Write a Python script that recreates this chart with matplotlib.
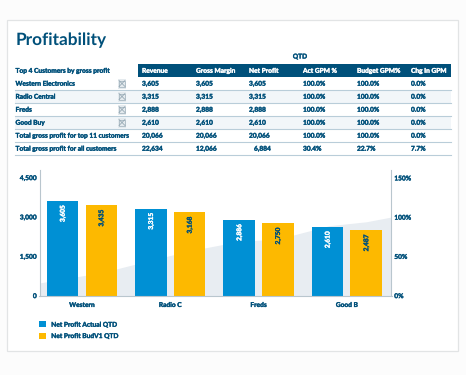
from matplotlib import pyplot as plt
from matplotlib.patches import Rectangle
from matplotlib.text import Text
import matplotlib.patheffects as pe

plt.rcParams['font.family'] = 'Lato'
plt.rcParams['text.hinting'] = 'no_hinting'

navy = '#00507a'
rule = '#b9cdd9'
fs = 4.75

# table
columns = ['Revenue', 'Gross Margin', 'Net Profit', 'Act GPM %', 'Budget GPM%', 'Chg In GPM']
rows = ['Western Electronics', 'Radio Central', 'Freds', 'Good Buy',
        'Total gross profit for top 11 customers', 'Total gross profit for all customers']
revenue = ['3,605', '3,315', '2,888', '2,610', '20,066', '22,634']
gross_margin = ['3,605', '3,315', '2,888', '2,610', '20,066', '12,066']
net_profit = ['3,605', '3,315', '2,888', '2,610', '20,066', '6,884']
act_gpm = ['100.0%', '100.0%', '100.0%', '100.0%', '100.0%', '30.4%']
budget_gpm = ['100.0%', '100.0%', '100.0%', '100.0%', '100.0%', '22.7%']
chg_gpm = ['0.0%', '0.0%', '0.0%', '0.0%', '0.0%', '7.7%']

# chart
customers = ['Western', 'Radio C', 'Freds', 'Good B']
actual = [3605, 3315, 2886, 2610]
budget = [3435, 3168, 2750, 2487]
area_x = [-0.48, -0.22, 0.22, 0.78, 1.22, 1.78, 2.22, 2.8, 3.22, 3.5]
area_pct = [16, 21, 29, 45, 57, 69, 72, 89, 94, 100]

fig = plt.figure(figsize=(4.66, 3.75), dpi=100, facecolor='#fcfcfc')

# whole figure in pixel units for the card and the table
page = fig.add_axes([0, 0, 1, 1])
page.set_xlim(0, 466)
page.set_ylim(375, 0)
page.axis('off')
page.add_patch(Rectangle((6.5, 19.5), 451, 331, fc='white', ec='#e2e4e5', lw=0.9))
title = page.text(15.5, 45, 'Profitability', color=navy, fontsize=12.4, fontweight='bold')

page.text(300, 58.5, 'QTD', color=navy, fontsize=fs, fontweight='bold', ha='center')
page.text(15.5, 72.8, 'Top 4 Customers by gross profit', color=navy, fontsize=fs, fontweight='bold')
page.add_patch(Rectangle((137.5, 64), 313.5, 13, fc=navy, ec='none'))
col_x = [142, 196, 249, 303, 357, 411]
for x, name in zip(col_x, columns):
    page.text(x, 72.8, name, color='white', fontsize=fs, fontweight='bold')

row_h = 13
for i, name in enumerate(rows):
    top = 77 + i * row_h
    if i in (1, 3):
        page.add_patch(Rectangle((15, top), 436, row_h, fc='#f2f6f9', ec='none'))
    page.plot([15, 451], [top + row_h, top + row_h], color=rule, lw=0.8)
    page.text(15.5, top + 8.7, name, color=navy, fontsize=fs, fontweight='bold')
    values = [revenue[i], gross_margin[i], net_profit[i], act_gpm[i], budget_gpm[i], chg_gpm[i]]
    for x, val in zip(col_x, values):
        if val == '6,884':
            x = x + 5   # this one sits further right in the original
        page.text(x, top + 8.7, val, color=navy, fontsize=fs, fontweight='bold')
    if i < 4:
        # broken image placeholder
        page.add_patch(Rectangle((117.5, top + 1.5), 8.5, 10, fc='#e4eaee', ec='none'))
        page.plot([119, 125], [top + 3.5, top + 9.5], color='#8ba0ad', lw=0.5)
        page.plot([119, 125], [top + 9.5, top + 3.5], color='#8ba0ad', lw=0.5)
        page.add_patch(Rectangle((119, top + 3.5), 6, 6, fc='none', ec='#8ba0ad', lw=0.4))

# axes box: x 39.5-391.5, y 170-295.5 (pixels)
ax = fig.add_axes([39.5 / 466, 1 - 295.5 / 375, 352 / 466, 125.5 / 375])
ax2 = ax.twinx()
ax.set_zorder(ax2.get_zorder() + 1)
ax.patch.set_visible(False)

ax2.fill_between(area_x, area_pct, color='#e8edf2', lw=0)
ax2.set_ylim(0, 160)
ax2.set_yticks([0, 50, 100, 150], ['0%', '50%', '100%', '150%'])

width = 0.357
off = 0.219
pos = range(len(customers))
b1 = ax.bar([p - off for p in pos], actual, width, color='#0090d4', label='Net Profit Actual QTD')
b2 = ax.bar([p + off for p in pos], budget, width, color='#fdb900', label='Net Profit BudV1 QTD')

for bars, vals, col in [(b1, actual, 'white'), (b2, budget, navy)]:
    for bar, v in zip(bars, vals):
        ax.annotate(f'{v:,}', (bar.get_x() + bar.get_width() / 2, v), xytext=(0, -3),
                    textcoords='offset points', rotation=90, ha='center', va='top',
                    color=col, fontsize=fs, fontweight='bold')

ax.set_xlim(-0.481, 3.505)
ax.set_ylim(0, 4786)
ax.set_yticks([0, 1500, 3000, 4500], ['0', '1,500', '3,000', '4,500'])
ax.set_xticks(list(pos), customers)

ax.spines['right'].set_visible(False)
ax2.spines['left'].set_visible(False)
ax2.spines['bottom'].set_visible(False)
for a in (ax, ax2):
    a.spines['top'].set_visible(False)
    for side in ('left', 'right', 'bottom'):
        a.spines[side].set_color('#b9c6ce')
        a.spines[side].set_linewidth(0.8)
    a.tick_params(length=0, colors=navy, labelsize=fs, pad=2)
    for lab in a.get_xticklabels() + a.get_yticklabels():
        lab.set_fontweight('bold')
ax.tick_params(axis='x', pad=4.5)

leg = ax.legend(loc='upper left', bbox_to_anchor=(39 / 466, 1 - 321.5 / 375),
                bbox_transform=fig.transFigure, frameon=False, ncol=1,
                handlelength=1.0, handleheight=1.0, handletextpad=0.85, labelspacing=0.75,
                borderpad=0, borderaxespad=0, labelcolor=navy, prop={'weight': 'bold', 'size': fs})

# small Lato looks thin next to the original, fatten it a little
for t in fig.findobj(Text):
    if t is not title:
        t.set_path_effects([pe.withStroke(linewidth=0.25, foreground=t.get_color())])

plt.savefig('out.png', dpi=100, facecolor=fig.get_facecolor())
